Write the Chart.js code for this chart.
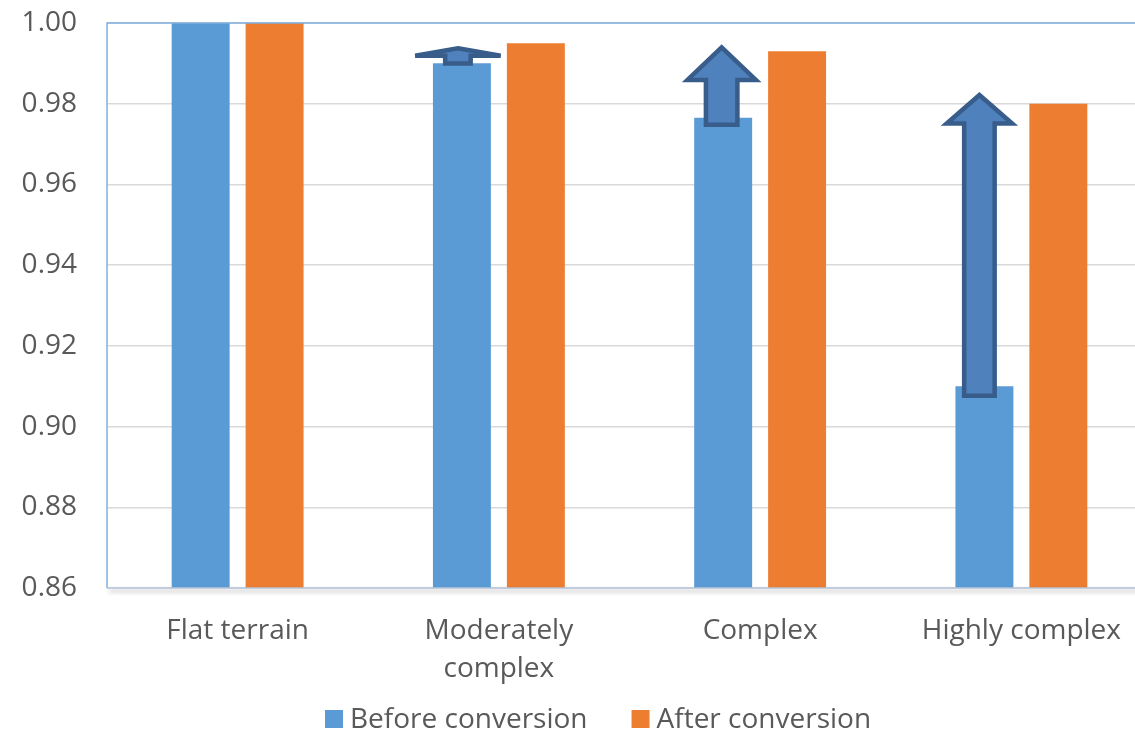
<!DOCTYPE html>
<html>
<head>
<meta charset="utf-8">
<script src="https://cdn.jsdelivr.net/npm/chart.js@4.4.1/dist/chart.umd.min.js"></script>
<style>
  html, body { margin: 0; padding: 0; background: #ffffff; overflow: hidden; }
  #wrap { width: 1135px; height: 734px; overflow: hidden; position: relative; }
  #wrap canvas { position: absolute; left: 0; top: 0; }
</style>
</head>
<body>
<div id="wrap"><canvas id="chart" width="1170" height="734"></canvas></div>
<script>
// Terrain classes and the ratio before / after conversion
const categories = ['Flat terrain', ['Moderately', 'complex'], 'Complex', 'Highly complex'];
const beforeConversion = [1.000, 0.990, 0.9765, 0.910];
const afterConversion = [1.000, 0.995, 0.993, 0.980];
const yTicks = [0.86, 0.88, 0.90, 0.92, 0.94, 0.96, 0.98, 1.00];

// Improvement arrows: where each arrow starts and where its tip points
const arrowFrom = [null, 0.9894, 0.9742, 0.9071];
const arrowTo = [null, 0.9943, 0.9945, 0.9827];

const TEXT = '#595959';
const FONT = 'Open Sans';

// Plot-area frame, block arrows and a compact legend row
const overlayPlugin = {
  id: 'overlay',
  afterDatasetsDraw(chart, args, opts) {
    const ctx = chart.ctx;
    const a = chart.chartArea;

    // frame: light blue outline with a soft drop shadow on the lower edge
    ctx.save();
    ctx.strokeStyle = '#7fb0e0';
    ctx.lineWidth = 1.5;
    ctx.beginPath();
    ctx.moveTo(a.left, a.bottom);
    ctx.lineTo(a.left, a.top);
    ctx.lineTo(a.right, a.top);
    ctx.stroke();
    ctx.shadowColor = 'rgba(0,0,0,0.35)';
    ctx.shadowOffsetX = 2;
    ctx.shadowOffsetY = 3;
    ctx.shadowBlur = 4;
    ctx.strokeStyle = '#b9c9dc';
    ctx.beginPath();
    ctx.moveTo(a.left, a.bottom);
    ctx.lineTo(a.right, a.bottom);
    ctx.stroke();
    ctx.restore();

    // arrows
    const y = chart.scales.y;
    const meta = chart.getDatasetMeta(0);
    const lw = opts.lineWidth;
    const h = lw / 2;
    arrowFrom.forEach((v, i) => {
      if (v == null) return;
      const s = opts.shapes[i];
      const cx = meta.data[i].x + s.dx;
      const yb = y.getPixelForValue(v);
      const yt = y.getPixelForValue(arrowTo[i]);
      const bw = s.body / 2 - h;
      const hw = s.head / 2 - h;
      const tip = yt + h;
      const base = yt + s.headLen - h;
      ctx.save();
      ctx.beginPath();
      ctx.moveTo(cx, tip);
      ctx.lineTo(cx + hw, base);
      ctx.lineTo(cx + bw, base);
      ctx.lineTo(cx + bw, yb - h);
      ctx.lineTo(cx - bw, yb - h);
      ctx.lineTo(cx - bw, base);
      ctx.lineTo(cx - hw, base);
      ctx.closePath();
      ctx.fillStyle = opts.fill;
      ctx.fill();
      ctx.lineJoin = 'miter';
      ctx.miterLimit = 3;
      ctx.lineWidth = lw;
      ctx.strokeStyle = opts.stroke;
      ctx.stroke();
      ctx.restore();
    });
  },
  afterDraw(chart, args, opts) {
    // legend row below the category labels
    const ctx = chart.ctx;
    const L = opts.legend;
    ctx.save();
    ctx.font = `${L.fontSize}px "${FONT}"`;
    ctx.textBaseline = 'middle';
    ctx.textAlign = 'left';
    let x = L.left;
    chart.data.datasets.forEach(ds => {
      ctx.fillStyle = ds.backgroundColor;
      ctx.fillRect(x, L.centerY - L.box / 2, L.box, L.box);
      x += L.box + L.textGap;
      ctx.fillStyle = TEXT;
      ctx.fillText(ds.label, x, L.centerY + 1);
      x += ctx.measureText(ds.label).width + L.itemGap;
    });
    ctx.restore();
  }
};

new Chart(document.getElementById('chart'), {
  type: 'bar',
  data: {
    labels: categories,
    datasets: [
      {
        label: 'Before conversion',
        data: beforeConversion,
        backgroundColor: '#5b9bd5',
        barPercentage: 0.784,
        categoryPercentage: 0.566
      },
      {
        label: 'After conversion',
        data: afterConversion,
        backgroundColor: '#ed7d31',
        barPercentage: 0.784,
        categoryPercentage: 0.566
      }
    ]
  },
  options: {
    responsive: false,
    animation: false,
    devicePixelRatio: 1,
    layout: { padding: { top: 23, right: 18, bottom: 0, left: 0 } },
    scales: {
      y: {
        min: 0.86,
        max: 1.00,
        afterBuildTicks(scale) { scale.ticks = yTicks.map(v => ({ value: v })); },
        afterFit(scale) {
          scale.width = 107;
          scale.paddingTop = 0;
          scale.paddingBottom = 0;
        },
        grid: { color: '#d9d9d9', lineWidth: 1.5, drawTicks: false },
        border: { display: false },
        ticks: {
          padding: 30,
          color: TEXT,
          font: { family: FONT, size: 28 },
          callback: v => Number(v).toFixed(2)
        }
      },
      x: {
        afterFit(scale) { scale.height = 146; },
        grid: { display: false, drawTicks: false },
        border: { display: false },
        ticks: {
          padding: 24,
          color: TEXT,
          maxRotation: 0,
          autoSkip: false,
          font: { family: FONT, size: 28, lineHeight: 1.36 }
        }
      }
    },
    plugins: {
      tooltip: { enabled: false },
      legend: { display: false },
      overlay: {
        lineWidth: 4.5,
        fill: '#4f81bd',
        stroke: '#385d8a',
        shapes: [
          null,
          { dx: -4, body: 30, head: 90, headLen: 12 },
          { dx: -1.5, body: 36, head: 73, headLen: 37 },
          { dx: -5, body: 35, head: 70, headLen: 33 }
        ],
        legend: { left: 325, centerY: 719, box: 18, textGap: 7, itemGap: 44, fontSize: 28 }
      }
    }
  },
  plugins: [overlayPlugin]
});
</script>
</body>
</html>
